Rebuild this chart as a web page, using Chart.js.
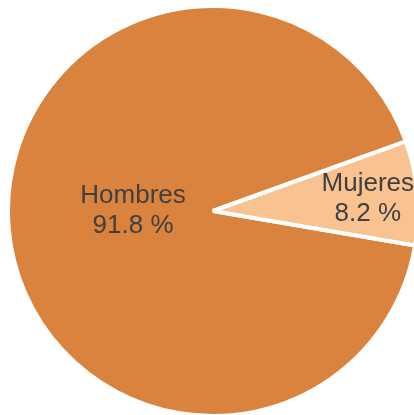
<!DOCTYPE html>
<html lang="es">
<head>
    <meta charset="UTF-8">
    <title>Hombres / Mujeres</title>
    <script src="https://cdn.jsdelivr.net/npm/chart.js@4/dist/chart.umd.min.js"></script>
    <style>
        html, body { margin: 0; padding: 0; background: #fff; overflow: hidden; }
        #wrap { width: 414px; height: 415px; overflow: hidden; }
    </style>
</head>
<body>
    <div id="wrap"><canvas id="myChart" width="430" height="420"></canvas></div>
    <script>
        var labels = ['Hombres', 'Mujeres'];
        var values = [91.8, 8.2];
        var colors = ['#DA833E', '#F9C291'];

        // where each label block sits, as fraction of radius from the centre
        var labelPos = [[-0.39, 0.0], [0.755, -0.06]];

        var sliceLabels = {
            id: 'sliceLabels',
            afterDatasetsDraw: function(chart) {
                var ctx = chart.ctx;
                var arc = chart.getDatasetMeta(0).data[0];
                var cx = arc.x, cy = arc.y, r = arc.outerRadius;
                ctx.save();
                ctx.font = '26px "Liberation Sans", Arial, sans-serif';
                ctx.fillStyle = '#404040';
                ctx.textAlign = 'center';
                ctx.textBaseline = 'middle';
                labels.forEach(function(lab, i) {
                    var x = cx + labelPos[i][0] * r;
                    var y = cy + labelPos[i][1] * r;
                    ctx.fillText(lab, x, y - 15);
                    ctx.fillText(values[i].toFixed(1) + ' %', x, y + 15);
                });
                ctx.restore();
            }
        };

        var ctx = document.getElementById('myChart').getContext('2d');
        var chart = new Chart(ctx, {
            type: 'pie',
            data: {
                labels: labels,
                datasets: [{
                    data: values,
                    backgroundColor: colors,
                    borderColor: '#ffffff',
                    borderWidth: 4,
                    hoverOffset: 0
                }]
            },
            options: {
                responsive: false,
                animation: false,
                rotation: 99.7,
                layout: { padding: { left: 6, top: 4, right: 10, bottom: 2 } },
                plugins: {
                    legend: { display: false },
                    tooltip: { enabled: false }
                }
            },
            plugins: [sliceLabels]
        });
    </script>
</body>
</html>
